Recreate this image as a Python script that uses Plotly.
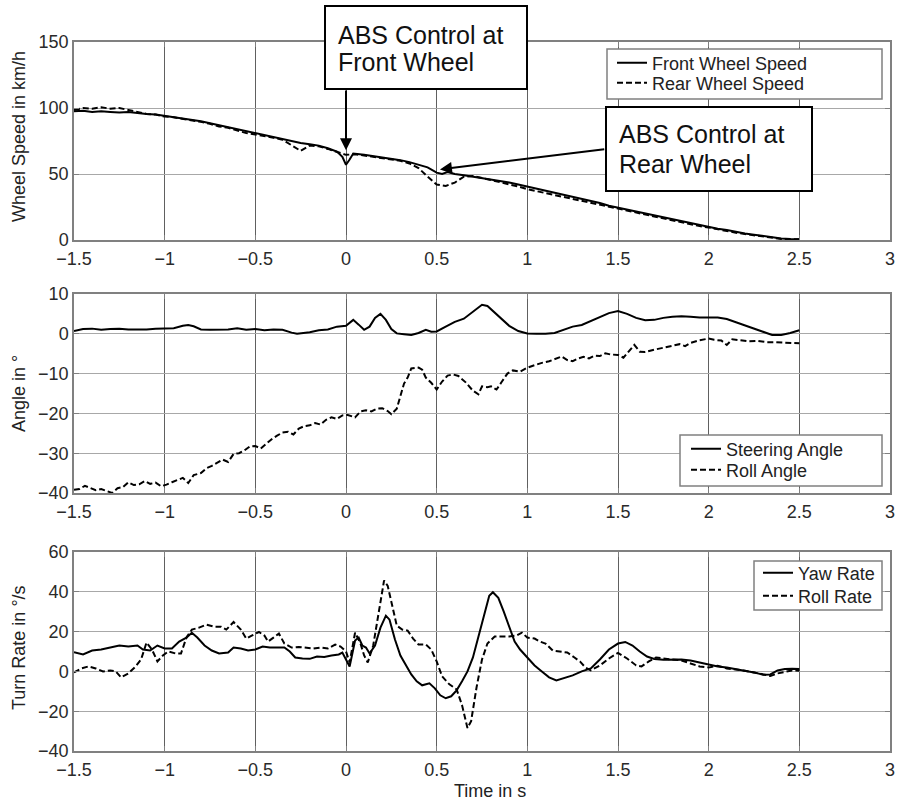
import plotly.graph_objects as go

# ---------------- data ----------------
# Top panel: wheel speeds (km/h)
t_front = [-1.50,-1.45,-1.40,-1.35,-1.30,-1.25,-1.20,-1.15,-1.10,-1.05,-1.00,-0.95,-0.90,-0.85,-0.80,-0.75,-0.70,-0.65,-0.60,-0.55,-0.50,-0.45,-0.40,-0.35,-0.30,-0.25,-0.20,-0.15,-0.10,-0.05,-0.02,0.00,0.02,0.04,0.10,0.15,0.20,0.25,0.30,0.35,0.40,0.45,0.50,0.53,0.56,0.60,0.65,0.70,0.75,0.80,0.85,0.90,0.95,1.00,1.05,1.10,1.15,1.20,1.25,1.30,1.35,1.40,1.45,1.50,1.55,1.60,1.65,1.70,1.75,1.80,1.85,1.90,1.95,2.00,2.05,2.10,2.15,2.20,2.25,2.30,2.35,2.40,2.45,2.50]
v_front = [97.5,98,97,97.5,97,96.5,97,96,95.5,95,94,93.5,92.5,91.5,90,88.5,87,85.5,84,82,80.5,79.5,78,76.5,75,73.5,72.5,71.5,69.5,67,63,57,61,65.5,64.5,63.5,63,62,60.5,59,57,55,51,50,51.5,50,49,48,47,46,45,43.5,42,40.5,39,37.5,36,34.5,33,31.5,30,28,26,24.5,23,21.5,20,18.5,17,15.5,14,12.5,11,10,8.5,7.5,6,5,4,3,2,1.2,0.8,0.6]

t_rear = [-1.50,-1.45,-1.40,-1.35,-1.30,-1.25,-1.20,-1.15,-1.10,-1.05,-1.00,-0.95,-0.90,-0.85,-0.80,-0.75,-0.70,-0.65,-0.60,-0.55,-0.50,-0.45,-0.40,-0.35,-0.30,-0.25,-0.20,-0.15,-0.10,-0.05,0.00,0.05,0.10,0.15,0.20,0.25,0.30,0.35,0.40,0.45,0.50,0.55,0.60,0.65,0.70,0.75,0.80,0.85,0.90,0.95,1.00,1.05,1.10,1.15,1.20,1.25,1.30,1.35,1.40,1.45,1.50,1.55,1.60,1.65,1.70,1.75,1.80,1.85,1.90,1.95,2.00,2.05,2.10,2.15,2.20,2.25,2.30,2.35,2.40,2.45,2.50]
v_rear = [98.5,100,99.5,100.5,99.5,100,98.5,97,95.5,95,93.5,93,92,90.5,89.5,88,86,85,83,81,80,79,77.5,76,72,67.5,71.5,71,69,67,64.5,65,64,63,62,61,60,58,54.5,48,42,41,43.5,48,48.5,47,45.5,44,42,40.5,38.5,37,35.5,34.5,33,31.5,30,28.5,27,25.5,24,22.5,21,19.5,18,16.5,15,13.5,12,10.5,9.5,8,7,5.5,4.5,3.5,2.5,1.5,0.8,0.5,0.5]

# Middle panel: angles (deg)
t_steer = [-1.50,-1.45,-1.40,-1.35,-1.30,-1.25,-1.20,-1.15,-1.10,-1.05,-1.00,-0.95,-0.90,-0.87,-0.84,-0.80,-0.75,-0.70,-0.65,-0.60,-0.55,-0.50,-0.45,-0.40,-0.35,-0.30,-0.27,-0.20,-0.15,-0.10,-0.05,0.00,0.04,0.07,0.10,0.13,0.16,0.19,0.22,0.25,0.28,0.32,0.36,0.40,0.44,0.47,0.50,0.55,0.60,0.65,0.70,0.75,0.78,0.82,0.86,0.90,0.95,1.00,1.05,1.10,1.15,1.20,1.25,1.30,1.35,1.40,1.45,1.50,1.55,1.60,1.65,1.70,1.75,1.80,1.85,1.90,1.95,2.00,2.05,2.10,2.15,2.20,2.25,2.30,2.35,2.40,2.45,2.50]
v_steer = [0.7,1.2,1.3,1.0,1.2,1.3,1.1,1.1,1.1,1.3,1.3,1.4,2.0,2.2,1.9,1.1,1.0,1.1,1.1,1.4,1.0,1.2,0.9,1.1,1.0,0.3,0.0,0.4,0.9,1.1,1.8,2.0,3.5,2.3,1.0,1.8,4.0,5.0,3.5,1.2,0.1,-0.1,-0.3,0.2,1.0,0.5,0.6,1.8,3.0,3.8,5.5,7.3,7.0,5.3,3.5,2.0,0.7,0.1,0.0,0.0,0.2,1.0,1.8,2.2,3.2,4.0,5.2,5.7,5.0,4.0,3.4,3.5,4.0,4.3,4.4,4.3,4.1,4.1,4.1,3.7,2.9,2.1,1.3,0.4,-0.3,-0.3,0.2,0.9]

t_roll = [-1.50,-1.47,-1.44,-1.41,-1.38,-1.35,-1.32,-1.29,-1.26,-1.23,-1.20,-1.17,-1.14,-1.11,-1.08,-1.05,-1.02,-0.99,-0.96,-0.93,-0.90,-0.87,-0.84,-0.80,-0.77,-0.74,-0.71,-0.68,-0.65,-0.62,-0.59,-0.56,-0.53,-0.50,-0.47,-0.44,-0.41,-0.38,-0.35,-0.32,-0.29,-0.26,-0.23,-0.20,-0.17,-0.14,-0.11,-0.08,-0.05,-0.02,0.01,0.05,0.08,0.11,0.14,0.17,0.20,0.23,0.25,0.28,0.30,0.32,0.34,0.36,0.40,0.42,0.44,0.47,0.50,0.53,0.56,0.59,0.62,0.66,0.70,0.73,0.75,0.78,0.80,0.83,0.86,0.89,0.92,0.96,1.00,1.04,1.08,1.12,1.16,1.19,1.22,1.25,1.28,1.31,1.34,1.37,1.40,1.43,1.46,1.50,1.53,1.56,1.59,1.62,1.65,1.70,1.75,1.80,1.84,1.87,1.90,1.95,2.00,2.03,2.07,2.10,2.13,2.17,2.22,2.27,2.32,2.37,2.42,2.47,2.50]
v_roll = [-39.2,-39,-38.2,-38.8,-39.3,-39,-39.5,-40,-38.8,-38.5,-37.3,-38,-37.8,-37,-37.7,-37.4,-38.3,-37.9,-37.3,-36.8,-36.2,-37.5,-35.5,-35,-33.8,-33.2,-32.5,-31.6,-32.2,-30.2,-30,-29.3,-28.3,-28.2,-28.8,-27.6,-26.5,-25.6,-24.8,-24.6,-25.3,-23.8,-23.2,-23,-22.4,-22.8,-21.6,-21,-21.4,-20.5,-20.4,-21,-19.5,-19.2,-19.5,-18.8,-18.7,-19.4,-20.2,-18.8,-15.5,-12.5,-11,-8.7,-8.5,-9,-11,-12.3,-14,-12,-10.5,-10.2,-10.6,-12.2,-14.3,-15.2,-13.2,-13.4,-13.2,-14,-12,-10,-9.2,-9.5,-8.5,-7.8,-7.3,-6.9,-6.2,-5.7,-6.6,-6.9,-6.2,-5.8,-6.2,-5.5,-5.6,-4.9,-5.2,-5.3,-6,-4.5,-2.8,-4.5,-4.6,-4,-3.5,-3,-2.6,-3.1,-2.3,-1.6,-1.2,-1.5,-1.7,-2.8,-1.4,-1.6,-1.9,-1.8,-2.1,-2.1,-2.2,-2.2,-2.4]

# Bottom panel: turn rates (deg/s)
t_yaw = [-1.50,-1.45,-1.40,-1.35,-1.30,-1.25,-1.20,-1.15,-1.12,-1.08,-1.04,-1.00,-0.96,-0.92,-0.88,-0.85,-0.82,-0.78,-0.74,-0.70,-0.65,-0.62,-0.58,-0.54,-0.50,-0.46,-0.42,-0.38,-0.34,-0.31,-0.28,-0.24,-0.20,-0.16,-0.12,-0.08,-0.04,-0.02,0.00,0.02,0.05,0.07,0.09,0.11,0.13,0.16,0.19,0.22,0.24,0.27,0.30,0.33,0.36,0.39,0.42,0.46,0.49,0.52,0.55,0.58,0.61,0.64,0.67,0.70,0.73,0.76,0.79,0.81,0.84,0.87,0.90,0.93,0.96,1.00,1.04,1.08,1.12,1.16,1.20,1.25,1.30,1.35,1.40,1.45,1.50,1.54,1.58,1.62,1.66,1.70,1.75,1.80,1.85,1.90,1.95,2.00,2.05,2.10,2.15,2.20,2.25,2.30,2.34,2.38,2.42,2.46,2.50]
v_yaw = [9.7,8.5,10.5,11,12,13,12.5,13,11,10.5,13,11.5,11.5,15,17,19.4,17,13,10.5,9,9.5,12,11.5,10.5,11,12.5,12,12,12,10,7,6.5,6.3,7.5,7.2,8,8.5,9.5,6,2.5,15.5,17,13,12,9,13,22,28,26,16,8,3,-1.5,-5,-7,-6,-8.5,-12,-13.5,-12.5,-9.5,-5,0,7,17,28,38,39.8,37,30,22,15,11,7,3,0,-3,-4.5,-3.5,-2,0,1.5,6,11,14,14.8,13,10,7.5,6.2,5.8,6,6,5.5,4.5,3.5,2.5,2,1.2,0.5,-0.5,-1.7,-1.5,0.5,1.2,1.3,1.2]

t_rollrate = [-1.50,-1.46,-1.42,-1.38,-1.34,-1.30,-1.27,-1.24,-1.20,-1.16,-1.13,-1.10,-1.07,-1.04,-1.01,-0.98,-0.94,-0.91,-0.88,-0.85,-0.81,-0.77,-0.73,-0.69,-0.66,-0.62,-0.58,-0.55,-0.52,-0.48,-0.45,-0.43,-0.40,-0.37,-0.34,-0.30,-0.26,-0.22,-0.18,-0.14,-0.10,-0.06,-0.03,0.00,0.02,0.05,0.08,0.10,0.12,0.15,0.18,0.21,0.23,0.26,0.28,0.31,0.34,0.37,0.40,0.44,0.47,0.50,0.53,0.57,0.61,0.64,0.67,0.69,0.72,0.75,0.78,0.82,0.86,0.90,0.94,0.97,1.00,1.04,1.07,1.10,1.14,1.18,1.22,1.26,1.29,1.32,1.35,1.40,1.45,1.50,1.55,1.60,1.63,1.67,1.71,1.75,1.80,1.85,1.90,1.95,2.00,2.05,2.10,2.15,2.20,2.25,2.30,2.34,2.38,2.42,2.46,2.50]
v_rollrate = [-0.5,1.5,2.5,1.5,0,0.5,0,-3,-1,2.5,6,14.5,11,5,8,10,9,9,17,21,22,23.5,22.5,22.5,21,24.8,21,16.5,18,19.8,18,15,17,19,14,12,12.3,12,11.5,12,11.5,13.5,12.5,10,4.5,19.5,14,8,4.5,13,30,45.7,43,30,23,21,20.5,16.5,13.5,13.5,11,5,-2.5,-6.5,-9,-17,-28.5,-25,-8,6,14,17.5,17.5,17.5,18,19.5,17,16.5,15,14,10.5,10,9.5,7,5,2,0.5,3,6.5,9.3,6.5,3,2.5,5,7,6.5,6,5.5,4,2.5,2,2.8,1.5,1,0.3,-0.5,-1.5,-2.3,-1,-0.2,0.5,0.3]

x_ticks = [-1.5, -1, -0.5, 0, 0.5, 1, 1.5, 2, 2.5, 3]
y1_ticks = [0, 50, 100, 150]
y2_ticks = [-40, -30, -20, -10, 0, 10]
y3_ticks = [-40, -20, 0, 20, 40, 60]

# ---------------- figure ----------------
W, H = 900, 803
FONT = "Arial, Liberation Sans, Helvetica, sans-serif"

def px(x):
    return x / W

def py(y):
    return 1 - y / H

dash = "6px,3px"
series = [
    # x, y, name, dashed, axis suffix, legend id, legend x(px), legend y(px)
    (t_front, v_front, "Front Wheel Speed", False, "", "legend", 612, 63),
    (t_rear, v_rear, "Rear Wheel Speed", True, "", "legend2", 612, 83),
    (t_steer, v_steer, "Steering Angle", False, "2", "legend3", 686, 449),
    (t_roll, v_roll, "Roll Angle", True, "2", "legend4", 686, 470),
    (t_yaw, v_yaw, "Yaw Rate", False, "3", "legend5", 758, 573),
    (t_rollrate, v_rollrate, "Roll Rate", True, "3", "legend6", 758, 596),
]

fig = go.Figure()
layout = dict(width=W, height=H, autosize=False, showlegend=True,
              margin=dict(l=0, r=0, t=0, b=0, autoexpand=False),
              paper_bgcolor="white", plot_bgcolor="white", font=dict(family=FONT, color="#222"))

for xs, ys, name, dashed, sfx, leg, lx, ly in series:
    fig.add_trace(go.Scatter(x=xs, y=ys, mode="lines", name=name, showlegend=True,
                             line=dict(color="black", width=2, dash=dash if dashed else "solid"),
                             xaxis="x" + sfx, yaxis="y" + sfx, legend=leg))
    layout[leg] = dict(x=px(lx), y=py(ly), xanchor="left", yanchor="middle",
                       bgcolor="rgba(0,0,0,0)", borderwidth=0,
                       font=dict(family=FONT, size=18, color="#222"))

xdom = [px(74), px(890)]
doms = [[py(240), py(42)], [py(493), py(294)], [py(751), py(552)]]

axis_common = dict(showgrid=True, showline=True, mirror="ticks", linecolor="#808080", linewidth=1.5,
                   ticks="inside", ticklen=5, tickcolor="#808080", zeroline=False, automargin=False,
                   tickfont=dict(family=FONT, size=18, color="#2a2a2a"))

for i, (dom, yt, yr) in enumerate(zip(doms, [y1_ticks, y2_ticks, y3_ticks],
                                      [[0, 150], [-40, 10], [-40, 60]])):
    sfx = "" if i == 0 else str(i + 1)
    layout["xaxis" + sfx] = dict(domain=xdom, range=[-1.5, 3], tickvals=x_ticks,
                                  anchor="y" + sfx, gridcolor="#606060", gridwidth=1,
                                  ticklabelstandoff=2, **axis_common)
    layout["yaxis" + sfx] = dict(domain=dom, range=yr, tickvals=yt, anchor="x" + sfx,
                                  gridcolor="#a8a8a8", gridwidth=1, **axis_common)

fig.update_layout(**layout)

# legend frames
for x0, x1, y0, y1 in [(607, 882, 49, 99), (680, 882, 435, 486), (754, 882, 561, 610)]:
    fig.add_shape(type="rect", xref="paper", yref="paper", x0=px(x0), x1=px(x1), y0=py(y1), y1=py(y0),
                  line=dict(color="#808080", width=1.5), fillcolor="white", layer="above")

# annotation boxes
fig.add_shape(type="rect", xref="paper", yref="paper", x0=px(325), x1=px(527), y0=py(89), y1=py(6),
              line=dict(color="black", width=2), fillcolor="white", layer="above")
fig.add_shape(type="rect", xref="paper", yref="paper", x0=px(606), x1=px(812), y0=py(191), y1=py(107),
              line=dict(color="black", width=2), fillcolor="white", layer="above")

box_font = dict(family=FONT, size=25, color="#111")
for txt, x, y in [("ABS Control at", 336, 35), ("Front Wheel", 336, 62),
                  ("ABS Control at", 617, 134), ("Rear Wheel", 617, 164)]:
    fig.add_annotation(text=txt, xref="paper", yref="paper", x=px(x), y=py(y), xanchor="left",
                       yanchor="middle", showarrow=False, font=box_font)

# arrows
fig.add_annotation(text="", x=0, y=68, xref="x", yref="y", ax=0, ay=114.4, axref="x", ayref="y",
                   showarrow=True, arrowhead=2, arrowsize=1.2, arrowwidth=2, arrowcolor="black")
fig.add_annotation(text="", x=0.518, y=53.5, xref="x", yref="y", ax=1.4325, ay=68.9, axref="x", ayref="y",
                   showarrow=True, arrowhead=2, arrowsize=1.2, arrowwidth=2, arrowcolor="black")

# axis titles
title_font = dict(family=FONT, size=18, color="#222")
for txt, y in [("Wheel Speed in km/h", 137), ("Angle in °", 394), ("Turn Rate in °/s", 648)]:
    fig.add_annotation(text=txt, xref="paper", yref="paper", x=px(19), y=py(y), textangle=-90,
                       xanchor="center", yanchor="middle", showarrow=False, font=title_font)
fig.add_annotation(text="Time in s", xref="paper", yref="paper", x=px(490), y=py(791),
                   xanchor="center", yanchor="middle", showarrow=False, font=title_font)

fig.write_html("out.html", config={"displayModeBar": False},
               post_script="document.body.style.margin='0';")
